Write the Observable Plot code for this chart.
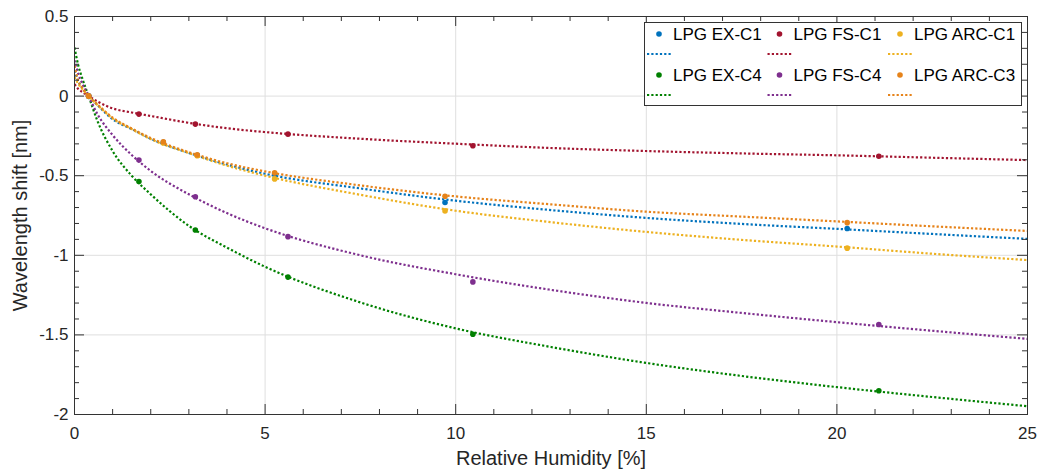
<!DOCTYPE html>
<html>
<head>
<meta charset="utf-8">
<script src="https://cdn.jsdelivr.net/npm/d3@7"></script>
<script src="https://cdn.jsdelivr.net/npm/@observablehq/plot@0.6"></script>
<style>
  body { margin: 0; background: #fff; }
  #chart svg { display: block; }
</style>
</head>
<body>
<div id="chart"></div>
<script>
// Sensor names and colours, in plotting order
const names  = ["LPG EX-C1", "LPG EX-C4", "LPG FS-C1", "LPG FS-C4", "LPG ARC-C1", "LPG ARC-C3"];
const colors = ["#0072bd", "#008000", "#a2142f", "#7e2f8e", "#edb120", "#e6831a"];

// Relative humidity steps (%) used in the two measurement runs
const rhRunA = [0.37, 2.33, 3.22, 5.25, 9.72, 20.27];   // EX-C1, ARC-C1, ARC-C3
const rhRunB = [0.37, 1.69, 3.17, 5.60, 10.45, 21.10];  // EX-C4, FS-C1, FS-C4

// Measured wavelength shift (nm)
const shiftExC1  = [0, -0.290, -0.372, -0.490, -0.668, -0.832];
const shiftExC4  = [0, -0.537, -0.841, -1.137, -1.496, -1.851];
const shiftFsC1  = [0, -0.113, -0.176, -0.239, -0.312, -0.378];
const shiftFsC4  = [0, -0.402, -0.632, -0.883, -1.167, -1.435];
const shiftArcC1 = [0, -0.295, -0.375, -0.520, -0.721, -0.955];
const shiftArcC3 = [0, -0.287, -0.369, -0.482, -0.629, -0.795];

// Fitted response curves, sampled along the humidity axis
const fitRH    = [0, 0.1, 0.2, 0.37, 0.6, 1, 1.5, 2, 3, 4, 5, 7.5, 10, 12.5, 15, 17.5, 20, 22.5, 25];
const fitExC1  = [0.160, 0.092, 0.053, 0, -0.056, -0.145, -0.207, -0.268, -0.357, -0.430, -0.488, -0.580, -0.657, -0.716, -0.765, -0.803, -0.834, -0.866, -0.897];
const fitExC4  = [0.305, 0.192, 0.114, 0, -0.155, -0.345, -0.500, -0.617, -0.815, -0.952, -1.072, -1.296, -1.459, -1.576, -1.676, -1.758, -1.828, -1.890, -1.948];
const fitFsC1  = [0.075, 0.045, 0.027, 0, -0.033, -0.077, -0.103, -0.125, -0.168, -0.202, -0.226, -0.268, -0.299, -0.326, -0.345, -0.360, -0.372, -0.387, -0.402];
const fitFsC4  = [0.225, 0.140, 0.082, 0, -0.112, -0.245, -0.370, -0.470, -0.617, -0.735, -0.830, -1.000, -1.119, -1.217, -1.299, -1.362, -1.420, -1.474, -1.525];
const fitArcC1 = [0.120, 0.077, 0.046, 0, -0.055, -0.140, -0.207, -0.270, -0.358, -0.437, -0.500, -0.620, -0.720, -0.792, -0.853, -0.903, -0.945, -0.990, -1.030];
const fitArcC3 = [0.190, 0.096, 0.053, 0, -0.052, -0.135, -0.203, -0.263, -0.352, -0.422, -0.473, -0.561, -0.630, -0.680, -0.726, -0.757, -0.787, -0.818, -0.847];

// Axis ticks
const xTicks = [0, 5, 10, 15, 20, 25];
const yTicks = [0.5, 0, -0.5, -1, -1.5, -2];

const measured = [shiftExC1, shiftExC4, shiftFsC1, shiftFsC4, shiftArcC1, shiftArcC3];
const runs     = [rhRunA, rhRunB, rhRunB, rhRunB, rhRunA, rhRunA];
const fits     = [fitExC1, fitExC4, fitFsC1, fitFsC4, fitArcC1, fitArcC3];

const series = names.map((name, i) => ({
  name,
  color: colors[i],
  points: runs[i].map((rh, j) => ({rh, shift: measured[i][j]})),
  curve: fitRH.map((rh, j) => ({rh, shift: fits[i][j]}))
}));

// Layout
const W = 1044, H = 473;
const mL = 74, mR = 17, mT = 16, mB = 59;
const innerW = W - mL - mR, innerH = H - mT - mB;
const majorLen = 10, minorLen = 5;
const axisColor = "#333333";
const font = "'Liberation Sans', Arial, Helvetica, sans-serif";
const dotted = {strokeWidth: 2.2, strokeDasharray: "2.2 2.1", strokeLinecap: "butt"};

const xMinor = d3.range(0, 25.001, 1).filter(v => !xTicks.includes(v));
const yMinor = d3.range(-20, 6, 1).map(v => v / 10).filter(v => !yTicks.includes(v));

// Inward-pointing ticks on all four sides of the box
const tickRulesX = (values, len) => [
  Plot.ruleX(values, {x: d => d, insetTop: innerH - len, stroke: axisColor}),
  Plot.ruleX(values, {x: d => d, insetBottom: innerH - len, stroke: axisColor})
];
const tickRulesY = (values, len) => [
  Plot.ruleY(values, {y: d => d, insetRight: innerW - len, stroke: axisColor}),
  Plot.ruleY(values, {y: d => d, insetLeft: innerW - len, stroke: axisColor})
];

const marks = [
  Plot.gridX(xTicks.slice(1, -1), {stroke: "#dfdfdf", strokeOpacity: 1}),
  Plot.gridY(yTicks.slice(1, -1), {stroke: "#dfdfdf", strokeOpacity: 1})
];

for (const s of series) {
  marks.push(
    Plot.line(s.curve, {x: "rh", y: "shift", stroke: s.color, curve: "monotone-x", clip: true, ...dotted}),
    Plot.dot(s.points, {x: "rh", y: "shift", fill: s.color, r: 2.8})
  );
}

marks.push(
  Plot.frame({stroke: axisColor}),
  ...tickRulesX(xTicks, majorLen),
  ...tickRulesX(xMinor, minorLen),
  ...tickRulesY(yTicks, majorLen),
  ...tickRulesY(yMinor, minorLen),
  Plot.axisX({ticks: xTicks, tickSize: 0, tickPadding: 12, tickFormat: d => String(d), label: null, fill: "#262626"}),
  Plot.axisY({ticks: yTicks, tickSize: 0, tickPadding: 6, tickFormat: d => String(d), label: null, fill: "#262626"}),
  Plot.text(["Relative Humidity [%]"], {frameAnchor: "bottom", textAnchor: "middle", lineAnchor: "bottom", dy: 50, fontSize: 20, fill: "#262626"}),
  Plot.text(["Wavelength shift [nm]"], {frameAnchor: "left", textAnchor: "middle", rotate: -90, dx: -54, fontSize: 20, fill: "#262626"})
);

const chart = Plot.plot({
  width: W, height: H,
  marginLeft: mL, marginRight: mR, marginTop: mT, marginBottom: mB,
  x: {domain: [0, 25]},
  y: {domain: [-2, 0.5]},
  style: {fontSize: "17px", fontFamily: font, background: "#fff", color: "#262626"},
  marks
});

// Legend inside the axes, top-right corner: three columns, each entry a marker
// with its name followed by a row showing the fitted-curve line style.
const legend = {x: 644, y: 22, w: 377, h: 83};
const colStep = 120.5, rowStep = 41;
const lg = d3.select(chart).append("g")
  .attr("font-family", font).attr("font-size", 17).attr("text-anchor", "start");
lg.append("rect")
  .attr("x", legend.x + 0.5).attr("y", legend.y + 0.5)
  .attr("width", legend.w).attr("height", legend.h)
  .attr("fill", "#fff").attr("stroke", axisColor);
series.forEach((s, i) => {
  const col = Math.floor(i / 2), row = i % 2;
  const cx = legend.x + 15 + col * colStep;
  const cy = legend.y + 12 + row * rowStep;
  lg.append("circle").attr("cx", cx).attr("cy", cy).attr("r", 2.8).attr("fill", s.color);
  lg.append("text").attr("x", cx + 14).attr("y", cy).attr("dy", "0.35em")
    .attr("fill", "#000").text(s.name);
  lg.append("line")
    .attr("x1", cx - 12).attr("x2", cx + 12)
    .attr("y1", cy + 20).attr("y2", cy + 20)
    .attr("stroke", s.color).attr("stroke-width", dotted.strokeWidth)
    .attr("stroke-dasharray", dotted.strokeDasharray);
});

document.getElementById("chart").append(chart);
</script>
</body>
</html>
